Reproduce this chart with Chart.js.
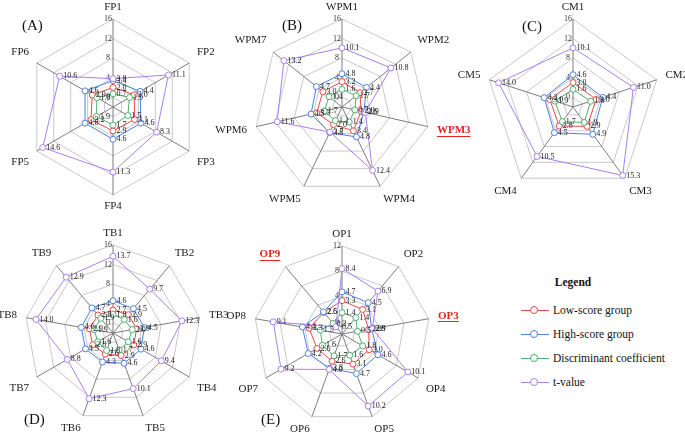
<!DOCTYPE html>
<html>
<head>
<meta charset="utf-8">
<script src="https://cdn.jsdelivr.net/npm/chart.js@4.4.1/dist/chart.umd.min.js"></script>
<style>
  html, body { margin: 0; padding: 0; background: #fff; }
  #page { position: relative; width: 685px; height: 434px; overflow: hidden; font-family: "Liberation Serif", "DejaVu Serif", serif; color: #111; }
  #page canvas { position: absolute; }
  .tag { position: absolute; font-size: 15px; line-height: 15px; }
  .lg-title { position: absolute; left: 540px; top: 276px; width: 66px; text-align: center; font-weight: bold; font-size: 11.5px; }
  .lg-item { position: absolute; left: 521px; height: 14px; font-size: 11.5px; line-height: 14px; white-space: nowrap; }
  .lg-line { position: absolute; left: 0; top: 7px; width: 28px; height: 1px; }
  .lg-dot { position: absolute; left: 9px; top: 3px; width: 8px; height: 8px; border-radius: 50%; background: #fff; border: 1px solid; box-sizing: border-box; }
  .lg-text { position: absolute; left: 32px; top: 0; }
</style>
</head>
<body>
<div id="page">
  <canvas id="chartA" width="320" height="220" style="left:-47px;top:-3px"></canvas>
  <canvas id="chartB" width="320" height="220" style="left:182px;top:-3px"></canvas>
  <canvas id="chartC" width="320" height="220" style="left:413px;top:-3px"></canvas>
  <canvas id="chartD" width="320" height="220" style="left:-47px;top:223px"></canvas>
  <canvas id="chartE" width="320" height="220" style="left:182px;top:224px"></canvas>
  <div class="tag" style="left:22px;top:18px">(A)</div>
  <div class="tag" style="left:282px;top:18px">(B)</div>
  <div class="tag" style="left:522px;top:19px">(C)</div>
  <div class="tag" style="left:24px;top:412px">(D)</div>
  <div class="tag" style="left:261px;top:412px">(E)</div>
  <div id="legend"><div class="lg-title">Legend</div></div>
</div>
<script>
  const AXIS_MIN = -2;

  const seriesNames = ['Low-score group', 'High-score group', 'Discriminant coefficient', 't-value'];
  const seriesColors = ['#e8484a', '#4d7fe6', '#4fae6b', '#a97ff0'];

  const ticks16 = [0, 4, 8, 12, 16];
  const ticks12 = [0, 4, 8, 12];

  // (A) FP
  const fpLabels = ['FP1', 'FP2', 'FP3', 'FP4', 'FP5', 'FP6'];
  const fpLow = [2.0, 3.0, 3.1, 2.9, 3.2, 2.9];
  const fpHigh = [3.4, 4.4, 4.6, 4.6, 4.6, 4.6];
  const fpDisc = [0.7, 1.9, 1.5, 1.7, 1.9, 1.8];
  const fpT = [3.8, 11.1, 8.3, 11.3, 14.6, 10.6];

  // (B) WPM
  const wpmLabels = ['WPM1', 'WPM2', 'WPM3', 'WPM4', 'WPM5', 'WPM6', 'WPM7'];
  const wpmLow = [3.2, 2.7, 2.0, 3.4, 2.0, 3.3, 3.0];
  const wpmHigh = [4.8, 4.4, 2.6, 4.8, 3.8, 4.5, 4.7];
  const wpmDisc = [1.6, 1.7, 0.7, 1.4, 1.1, 1.7, 1.4];
  const wpmT = [10.1, 10.8, 2.9, 12.4, 3.7, 11.6, 13.2];

  // (C) CM
  const cmLabels = ['CM1', 'CM2', 'CM3', 'CM4', 'CM5'];
  const cmLow = [3.0, 3.0, 2.9, 2.8, 3.0];
  const cmHigh = [4.6, 4.4, 4.9, 4.5, 4.2];
  const cmDisc = [1.6, 1.8, 1.9, 1.7, 1.9];
  const cmT = [10.1, 11.0, 15.3, 10.5, 14.0];

  // (D) TB
  const tbLabels = ['TB1', 'TB2', 'TB3', 'TB4', 'TB5', 'TB6', 'TB7', 'TB8', 'TB9'];
  const tbLow = [2.7, 2.9, 2.9, 2.9, 2.9, 2.6, 2.8, 2.9, 2.8];
  const tbHigh = [4.6, 4.5, 4.5, 4.6, 4.6, 4.3, 4.5, 4.6, 4.7];
  const tbDisc = [1.8, 1.6, 2.0, 1.6, 1.7, 1.8, 1.6, 1.9, 1.9];
  const tbT = [13.7, 9.7, 12.3, 9.4, 10.1, 12.3, 8.8, 14.0, 12.9];

  // (E) OP
  const opLabels = ['OP1', 'OP2', 'OP3', 'OP4', 'OP5', 'OP6', 'OP7', 'OP8', 'OP9'];
  const opLow = [3.3, 3.1, 2.3, 3.0, 3.1, 2.6, 2.6, 3.3, 2.5];
  const opHigh = [4.7, 4.5, 2.8, 4.6, 4.7, 3.8, 4.2, 4.4, 2.6];
  const opDisc = [1.4, 1.4, 0.5, 1.8, 1.6, 1.7, 1.6, 1.5, 0.2];
  const opT = [8.4, 6.9, 2.9, 10.1, 10.2, 4.0, 9.2, 9.1, -0.5];

  const FLAG_COLOR = '#e3241f';
  const SERIF = '"Liberation Serif", "DejaVu Serif", serif';

  Chart.defaults.font.family = SERIF;

  // value text to the right of every marker
  const valueLabels = {
    id: 'valueLabels',
    afterDatasetsDraw(chart) {
      const ctx = chart.ctx;
      ctx.save();
      ctx.font = '8px ' + SERIF;
      ctx.fillStyle = '#222';
      ctx.textAlign = 'left';
      ctx.textBaseline = 'middle';
      chart.data.datasets.forEach((ds, i) => {
        chart.getDatasetMeta(i).data.forEach((pt, j) => {
          ctx.fillText(ds.data[j].toFixed(1), pt.x + 3.5, pt.y);
        });
      });
      ctx.restore();
    }
  };

  // item names round the outer ring, removed items in red and underlined
  const itemLabels = {
    id: 'itemLabels',
    afterDraw(chart, args, opts) {
      const scale = chart.scales.r;
      const ctx = chart.ctx;
      const flagged = opts.flagged || [];
      const lh = 13;
      ctx.save();
      chart.data.labels.forEach((label, i) => {
        const a = scale.getIndexAngle(i);
        const sin = Math.sin(a), cos = Math.cos(a);
        const pad = 5 + 4.5 * Math.abs(sin);
        const p = scale.getPointPosition(i, scale.drawingArea + pad);
        const bad = flagged.includes(i);
        ctx.font = (bad ? 'bold ' : '') + '11px ' + SERIF;
        ctx.fillStyle = bad ? FLAG_COLOR : '#1a1a1a';
        ctx.textAlign = sin > 0.02 ? 'left' : (sin < -0.02 ? 'right' : 'center');
        ctx.textBaseline = 'middle';
        let y = p.y;
        if (Math.abs(cos) < 0.35) y -= cos * lh / 2;
        else y -= Math.sign(cos) * lh / 2;
        ctx.fillText(label, p.x, y);
        if (bad) {
          const w = ctx.measureText(label).width;
          const x0 = ctx.textAlign === 'left' ? p.x : (ctx.textAlign === 'right' ? p.x - w : p.x - w / 2);
          const uy = Math.round(y + 5.5) + 0.5;
          ctx.strokeStyle = FLAG_COLOR;
          ctx.lineWidth = 1;
          ctx.beginPath();
          ctx.moveTo(x0, uy);
          ctx.lineTo(x0 + w, uy);
          ctx.stroke();
        }
      });
      ctx.restore();
    }
  };

  function makeRadar(id, labels, series, max, tickValues, flagged) {
    return new Chart(document.getElementById(id), {
      type: 'radar',
      data: {
        labels: labels,
        datasets: series.map((values, i) => ({
          label: seriesNames[i],
          data: values,
          borderColor: seriesColors[i],
          pointBorderColor: seriesColors[i],
          pointBackgroundColor: '#fff',
          borderWidth: 1,
          pointRadius: 3,
          pointBorderWidth: 1,
          fill: false,
          order: 3 - i
        }))
      },
      options: {
        responsive: false,
        animation: false,
        events: [],
        layout: { padding: { left: 68, right: 68, top: 18, bottom: 18 } },
        elements: { line: { tension: 0 } },
        plugins: {
          legend: { display: false },
          tooltip: { enabled: false },
          itemLabels: { flagged: flagged }
        },
        scales: {
          r: {
            min: AXIS_MIN,
            max: max,
            afterBuildTicks: s => {
              s.ticks = [AXIS_MIN].concat(tickValues).map(v => ({ value: v }));
            },
            ticks: {
              font: { size: 8 },
              color: '#333',
              showLabelBackdrop: false,
              backdropPadding: 0,
              callback: v => v < 0 ? '' : v + '     '
            },
            grid: { color: '#c9c9c9', lineWidth: 1 },
            angleLines: { color: '#7d7d7d', lineWidth: 1 },
            pointLabels: { display: false }
          }
        }
      },
      plugins: [valueLabels, itemLabels]
    });
  }

  makeRadar('chartA', fpLabels, [fpLow, fpHigh, fpDisc, fpT], 16, ticks16, []);
  makeRadar('chartB', wpmLabels, [wpmLow, wpmHigh, wpmDisc, wpmT], 16, ticks16, [2]);
  makeRadar('chartC', cmLabels, [cmLow, cmHigh, cmDisc, cmT], 16, ticks16, []);
  makeRadar('chartD', tbLabels, [tbLow, tbHigh, tbDisc, tbT], 16, ticks16, []);
  makeRadar('chartE', opLabels, [opLow, opHigh, opDisc, opT], 12, ticks12, [2, 8]);

  // legend
  var legend = document.getElementById('legend');
  seriesNames.forEach((name, i) => {
    var item = document.createElement('div');
    item.className = 'lg-item';
    item.style.top = (303 + i * 24) + 'px';
    item.innerHTML = '<span class="lg-line" style="background:' + seriesColors[i] + '"></span>' +
      '<span class="lg-dot" style="border-color:' + seriesColors[i] + '"></span>' +
      '<span class="lg-text">' + name + '</span>';
    legend.appendChild(item);
  });
</script>
</body>
</html>
